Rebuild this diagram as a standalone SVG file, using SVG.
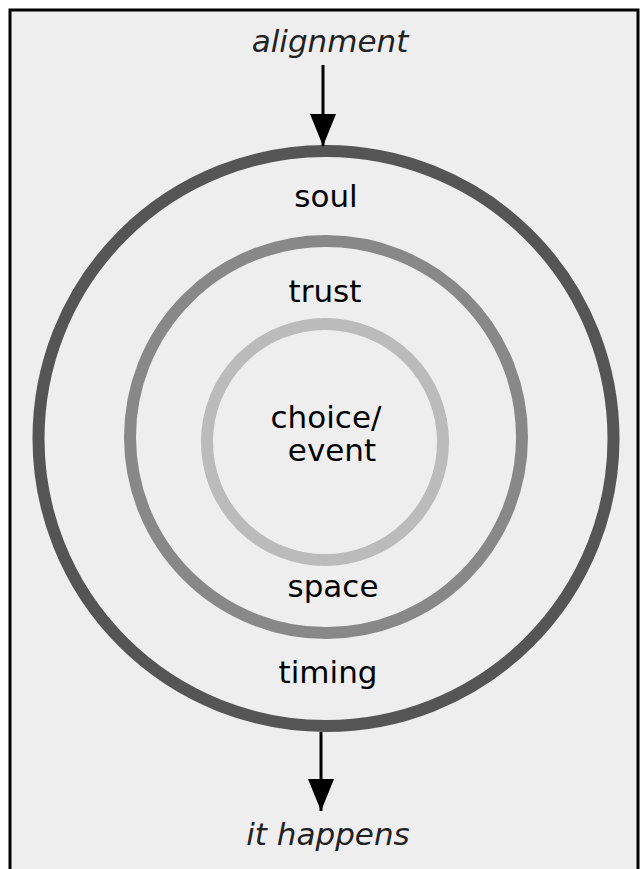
<svg xmlns="http://www.w3.org/2000/svg" width="640" height="869" viewBox="0 0 640 869">
  <defs>
    <marker id="arrow" markerUnits="userSpaceOnUse" markerWidth="32" markerHeight="26" refX="32" refY="13" orient="auto">
      <path d="M0,0 L32,13 L0,26 Z" fill="#000"/>
    </marker>
    <style>
      .ring { fill: none; stroke-width: 12; }
      .lbl { font-family: "DejaVu Sans", sans-serif; font-size: 31px; fill: #000; text-anchor: middle; }
      .it { font-family: "DejaVu Sans", sans-serif; font-size: 31px; font-style: italic; fill: #222; text-anchor: middle; }
      .conn { stroke: #000; stroke-width: 3; fill: none; }
    </style>
  </defs>
  <rect x="0" y="0" width="640" height="869" fill="#ffffff"/>
  <path d="M10,869 V10 H638 V869" fill="#eeeeee" stroke="#000" stroke-width="3"/>

  <g id="outer">
    <circle class="ring" cx="326" cy="438.5" r="287.5" stroke="#555555"/>
    <text class="lbl" x="326" y="207">soul</text>
    <text class="lbl" x="328" y="683">timing</text>
  </g>
  <g id="middle">
    <circle class="ring" cx="326" cy="437" r="196" stroke="#888888"/>
    <text class="lbl" x="325" y="302">trust</text>
    <text class="lbl" x="333" y="597">space</text>
  </g>
  <g id="inner">
    <circle class="ring" cx="325" cy="442" r="118" stroke="#bbbbbb"/>
    <text class="lbl" x="326" y="428">choice/</text>
    <text class="lbl" x="332" y="461">event</text>
  </g>
  <g id="alignment">
    <text class="it" x="330" y="52">alignment</text>
  </g>
  <g id="it-happens">
    <text class="it" x="328" y="845">it happens</text>
  </g>
  <g id="connectors">
    <line class="conn" x1="323" y1="65" x2="323" y2="146" marker-end="url(#arrow)"/>
    <line class="conn" x1="321" y1="732" x2="321" y2="811" marker-end="url(#arrow)"/>
  </g>
</svg>
